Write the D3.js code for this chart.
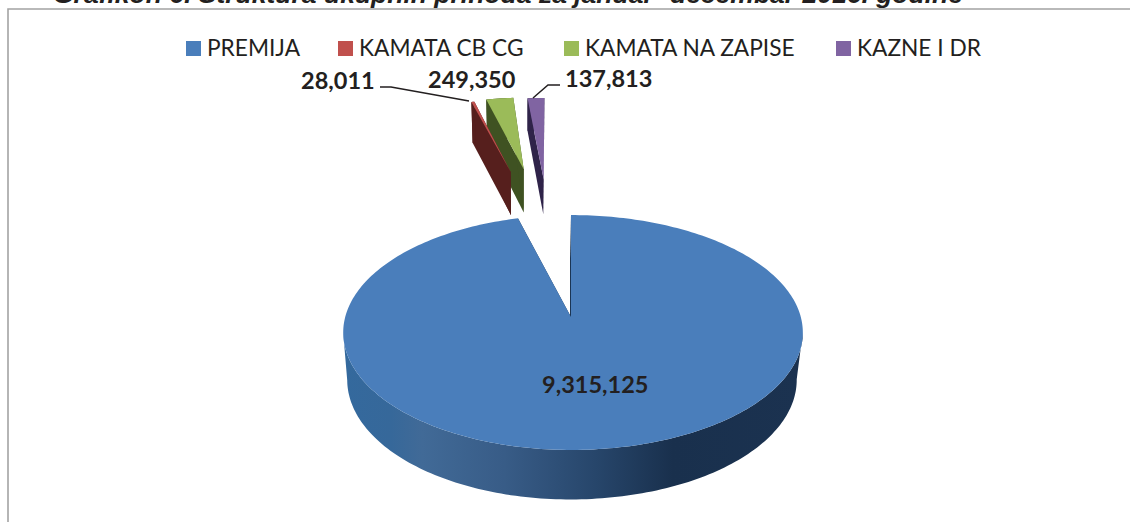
<!DOCTYPE html>
<html>
<head>
<meta charset="utf-8">
<script src="https://cdn.jsdelivr.net/npm/d3@7"></script>
<style>
  body { margin: 0; background: #fff; overflow: hidden; }
  text { fill: #231f20; }
</style>
</head>
<body>
<div id="chart"></div>
<script>
// Data
var categories = ["PREMIJA", "KAMATA CB CG", "KAMATA NA ZAPISE", "KAZNE I DR"];
var values = [9315125, 28011, 249350, 137813];
var titleText = "Grafikon 6. Struktura ukupnih prihoda za januar- decembar 2016. godine";

var colors = ["#4a7ebb", "#c0504d", "#9bbb59", "#8064a2"];
var darkColors = ["#1b3554", "#561f1d", "#3f5222", "#2f2349"];

var w = 1130, h = 522;
var svg = d3.select("#chart").append("svg").attr("width", w).attr("height", h);

var defs = svg.append("defs");
var wallGrad = defs.append("linearGradient").attr("id", "wall")
  .attr("gradientUnits", "userSpaceOnUse")
  .attr("x1", 345).attr("x2", 800).attr("y1", 0).attr("y2", 0);
[[0, "#34699d"], [0.1, "#36689a"], [0.17, "#416a97"], [0.35, "#385c87"], [0.55, "#27466b"], [0.72, "#19304d"], [1, "#1b3250"]]
  .forEach(function(s) { wallGrad.append("stop").attr("offset", s[0]).attr("stop-color", s[1]); });

// Frame
svg.append("path").attr("d", "M8,522V9H1130").attr("fill", "none").attr("stroke", "#a3a3a3").attr("stroke-width", 1.6);

// Title, cut off by the top of the page
svg.append("text").attr("x", 53).attr("y", 3)
  .attr("font-family", "Liberation Sans").attr("font-weight", 700).attr("font-style", "italic")
  .attr("font-size", 26.5).text(titleText);

// Perspective of the pie: disc coordinates -> screen
var apex = {x: 571, y: 317}, k = 0.132, by = 115.4;
function project(X, Y, lower, depth) {
  var s = 1 / (1 - k * Y);
  var ax = X < 0 ? 225.8 : 229.8;
  var px = apex.x + ax * X * s, py = apex.y + by * Y * s;
  if (lower) {
    px = apex.x - 1 + (px - apex.x) * 0.978;
    py = py + (47 + 2.5 * Y) * depth;
  }
  return [px, py];
}

// how far each slice is pulled out, and in which direction (deg from 12 o'clock)
var pose = [
  {dir: 0, dist: 0, r: 1, rot: 0, depth: 1},
  {dir: -12, dist: 1.54, r: 1, rot: 0, depth: 1},
  {dir: -9.3, dist: 1.56, r: 1, rot: 0, depth: 1},
  {dir: -5.8, dist: 1.42, r: 1.12, rot: -0.7, depth: 0.8}
];

var pie = d3.pie().sort(null).value(function(d) { return d; });
var arcs = pie(values).map(function(a, i) {
  var p = pose[i], dirRad = p.dir * Math.PI / 180, rot = p.rot * Math.PI / 180;
  var ox = Math.sin(dirRad) * p.dist, oy = -Math.cos(dirRad) * p.dist;
  var n = Math.max(2, Math.ceil((a.endAngle - a.startAngle) / 0.02));
  var rim = d3.range(n + 1).map(function(j) {
    var t = a.startAngle + (a.endAngle - a.startAngle) * j / n + rot;
    return {X: ox + p.r * Math.sin(t), Y: oy - p.r * Math.cos(t)};
  });
  return {i: i, tip: {X: ox, Y: oy}, rim: rim, depth: p.depth};
});

var line = d3.line();
function poly(pts) { return line(pts) + "Z"; }

function drawWalls(a, fill) {
  var g = svg.append("g");
  function up(p) { return project(p.X, p.Y); }
  function down(p) { return project(p.X, p.Y, true, a.depth); }
  // the two cut faces
  [a.rim[0], a.rim[a.rim.length - 1]].forEach(function(p) {
    g.append("path")
      .attr("d", poly([up(a.tip), up(p), down(p), down(a.tip)]))
      .attr("fill", fill === "url(#wall)" ? darkColors[0] : fill);
  });
  // outer wall as one shape, only between the widest points of the rim
  var iRight = d3.greatestIndex(a.rim, function(p) { return up(p)[0]; });
  var iLeft = d3.leastIndex(a.rim, function(p) { return up(p)[0]; });
  var front = a.rim.slice(Math.min(iRight, iLeft), Math.max(iRight, iLeft) + 1);
  g.append("path")
    .attr("d", poly(front.map(up).concat(front.slice().reverse().map(down))))
    .attr("fill", fill);
}

function drawTop(a) {
  var pts = [project(a.tip.X, a.tip.Y)].concat(a.rim.map(function(p) { return project(p.X, p.Y); }));
  svg.append("path").attr("d", poly(pts)).attr("fill", colors[a.i]);
}

// back to front
[3, 2, 1].forEach(function(i) {
  drawWalls(arcs[i], darkColors[i]);
  drawTop(arcs[i]);
});
drawWalls(arcs[0], "url(#wall)");
drawTop(arcs[0]);

// Legend
var legendX = [186, 338, 564, 836];
var legend = svg.selectAll(".legend").data(categories).enter().append("g").attr("class", "legend");
legend.append("rect")
  .attr("x", function(d, i) { return legendX[i]; }).attr("y", 41)
  .attr("width", 15).attr("height", 15)
  .attr("fill", function(d, i) { return colors[i]; });
legend.append("text")
  .attr("x", function(d, i) { return legendX[i] + 21; }).attr("y", 56)
  .attr("font-family", "Lato").attr("font-size", 22.7)
  .text(function(d) { return d; });

// Value labels
var fmt = d3.format(",");
var labelPos = [[542, 393], [301, 89], [428, 88], [565, 87]];
svg.selectAll(".val").data(values).enter().append("text").attr("class", "val")
  .attr("x", function(d, i) { return labelPos[i][0]; })
  .attr("y", function(d, i) { return labelPos[i][1]; })
  .attr("font-family", "Lato").attr("font-weight", 700).attr("font-size", 23.5)
  .text(function(d) { return fmt(d); });

// Leader lines
[[[380, 87], [391, 87], [469, 101]], [[560, 85], [548, 85], [533, 98]]].forEach(function(l) {
  svg.append("path").attr("d", d3.line()(l)).attr("fill", "none").attr("stroke", "#231f20").attr("stroke-width", 1.5);
});
</script>
</body>
</html>
